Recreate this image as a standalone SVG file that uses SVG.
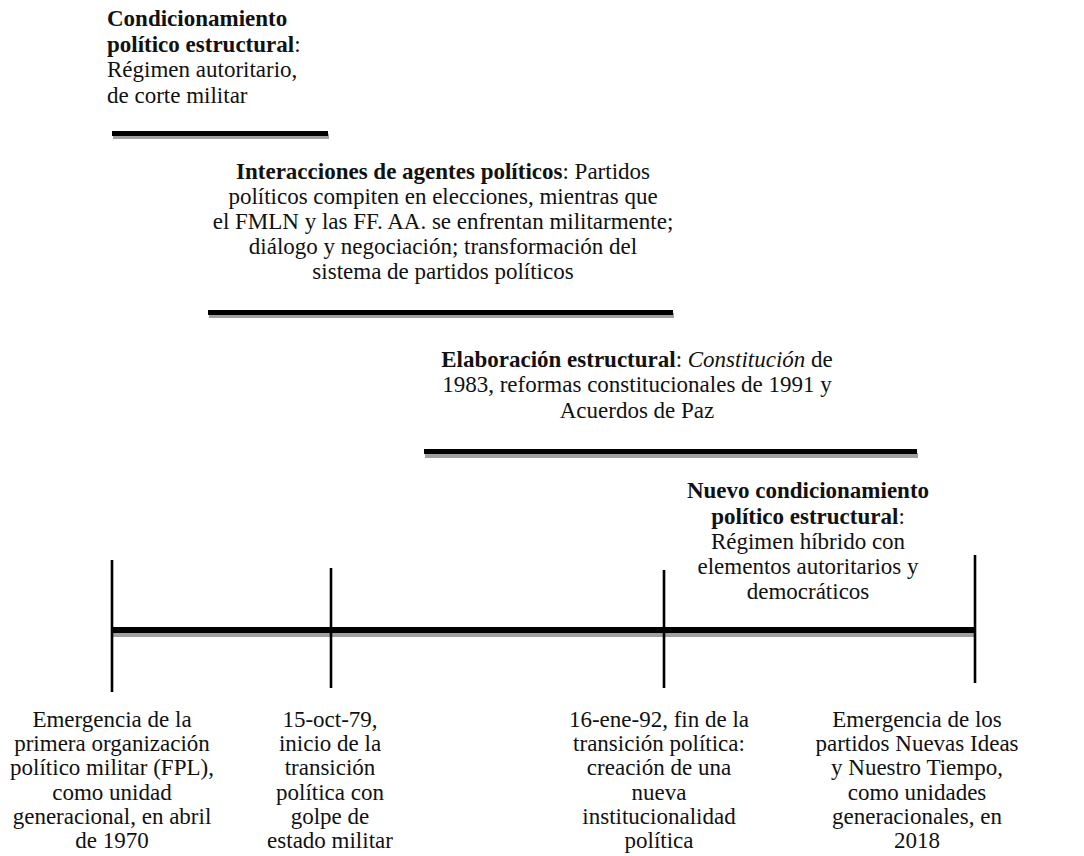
<svg xmlns="http://www.w3.org/2000/svg" width="1084" height="856" viewBox="0 0 1084 856">
<style>
text{font-family:"Liberation Serif","Times New Roman",serif;font-size:23px;fill:#111}
.c{text-anchor:middle}
.b{font-weight:bold}
.i{font-style:italic}
.shadow{fill:#a0a0a0}
.bar{fill:#000}
.tick{stroke:#000;stroke-width:2.6;fill:none}
</style>
<rect width="1084" height="856" fill="#fff"/>
<g id="node-condicionamiento">
<text x="107" y="26"><tspan class="b">Condicionamiento</tspan></text>
<text x="107" y="51.5"><tspan class="b">político estructural</tspan>:</text>
<text x="107" y="77">Régimen autoritario,</text>
<text x="107" y="102.5">de corte militar</text>
<rect class="shadow" x="113" y="134" width="216" height="5"/>
<rect class="bar" x="112" y="131" width="216" height="5"/>
</g>
<g id="node-interacciones">
<text class="c" x="443" y="179"><tspan class="b">Interacciones de agentes políticos</tspan>: Partidos</text>
<text class="c" x="443" y="204">políticos compiten en elecciones, mientras que</text>
<text class="c" x="443" y="229">el FMLN y las FF. AA. se enfrentan militarmente;</text>
<text class="c" x="443" y="254">diálogo y negociación; transformación del</text>
<text class="c" x="443" y="279">sistema de partidos políticos</text>
<rect class="shadow" x="209" y="313" width="465" height="5"/>
<rect class="bar" x="208" y="310" width="465" height="5"/>
</g>
<g id="node-elaboracion">
<text class="c" x="637" y="367"><tspan class="b">Elaboración estructural</tspan>: <tspan class="i">Constitución</tspan> de</text>
<text class="c" x="637" y="392">1983, reformas constitucionales de 1991 y</text>
<text class="c" x="637" y="417.5">Acuerdos de Paz</text>
<rect class="shadow" x="425" y="453" width="493" height="5"/>
<rect class="bar" x="424" y="449" width="493" height="5"/>
</g>
<g id="node-nuevo">
<text class="c b" x="808" y="498">Nuevo condicionamiento</text>
<text class="c" x="808" y="523.5"><tspan class="b">político estructural</tspan>:</text>
<text class="c" x="808" y="549">Régimen híbrido con</text>
<text class="c" x="808" y="574">elementos autoritarios y</text>
<text class="c" x="808" y="599">democráticos</text>
</g>
<g id="connectors">
<rect class="shadow" x="113" y="632" width="862" height="5"/>
<rect class="bar" x="112" y="627" width="863" height="6"/>
<line class="tick" x1="112" y1="560" x2="112" y2="692"/>
<line class="tick" x1="331" y1="568" x2="331" y2="688"/>
<line class="tick" x1="664" y1="570" x2="664" y2="688"/>
<line class="tick" x1="975" y1="555" x2="975" y2="683"/>
</g>
<g id="node-1970">
<text class="c" x="112" y="727">Emergencia de la</text>
<text class="c" x="112" y="751.2">primera organización</text>
<text class="c" x="112" y="775.4">político militar (FPL),</text>
<text class="c" x="112" y="799.6">como unidad</text>
<text class="c" x="112" y="823.8">generacional, en abril</text>
<text class="c" x="112" y="848">de 1970</text>
</g>
<g id="node-1979">
<text class="c" x="330" y="727">15-oct-79,</text>
<text class="c" x="330" y="751.2">inicio de la</text>
<text class="c" x="330" y="775.4">transición</text>
<text class="c" x="330" y="799.6">política con</text>
<text class="c" x="330" y="823.8">golpe de</text>
<text class="c" x="330" y="848">estado militar</text>
</g>
<g id="node-1992">
<text class="c" x="659" y="727">16-ene-92, fin de la</text>
<text class="c" x="659" y="751.2">transición política:</text>
<text class="c" x="659" y="775.4">creación de una</text>
<text class="c" x="659" y="799.6">nueva</text>
<text class="c" x="659" y="823.8">institucionalidad</text>
<text class="c" x="659" y="848">política</text>
</g>
<g id="node-2018">
<text class="c" x="917" y="727">Emergencia de los</text>
<text class="c" x="917" y="751.2">partidos Nuevas Ideas</text>
<text class="c" x="917" y="775.4">y Nuestro Tiempo,</text>
<text class="c" x="917" y="799.6">como unidades</text>
<text class="c" x="917" y="823.8">generacionales, en</text>
<text class="c" x="917" y="848">2018</text>
</g>
</svg>
